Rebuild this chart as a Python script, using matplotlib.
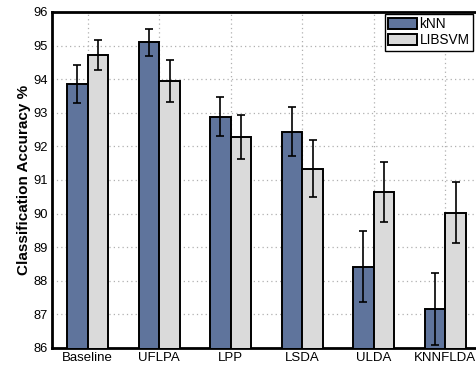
import matplotlib
matplotlib.use("Agg")
import matplotlib.pyplot as plt
import numpy as np

plt.rcParams['font.family'] = ['Liberation Sans', 'DejaVu Sans']

methods = ["Baseline", "UFLPA", "LPP", "LSDA", "ULDA", "KNNFLDA"]
knn_acc = [93.85, 95.10, 92.88, 92.43, 88.42, 87.16]
knn_err = [0.57, 0.40, 0.58, 0.73, 1.05, 1.07]
svm_acc = [94.72, 93.94, 92.28, 91.34, 90.64, 90.03]
svm_err = [0.45, 0.63, 0.66, 0.86, 0.90, 0.90]
yticks = [86, 87, 88, 89, 90, 91, 92, 93, 94, 95, 96]

knn_color = "#5f749c"
svm_color = "#dadada"

fig = plt.figure(figsize=(4.77, 3.71), dpi=100)
ax = fig.add_axes([52 / 477, 23 / 371, 429 / 477, 336 / 371])

x = np.arange(1, len(methods) + 1)
w = 0.287
err_kw = dict(ecolor="black", elinewidth=1.2, capsize=2.9, capthick=1.2)
b1 = ax.bar(x - w / 2, knn_acc, w, color=knn_color, edgecolor="black",
            linewidth=1.4, yerr=knn_err, error_kw=err_kw, label="kNN", zorder=3)
b2 = ax.bar(x + w / 2, svm_acc, w, color=svm_color, edgecolor="black",
            linewidth=1.4, yerr=svm_err, error_kw=err_kw, label="LIBSVM", zorder=3)

ax.set_xlim(0.5, 6.5)
ax.set_ylim(86, 96)
ax.set_xticks(x)
ax.set_xticklabels(methods, fontsize=9.5)
ax.set_yticks(yticks)
ax.set_yticklabels([str(t) for t in yticks], fontsize=9.3)
ax.tick_params(length=0, pad=3)

ax.grid(True, color="#b0b0b0", linestyle=(0, (1, 2.5)), linewidth=0.9, zorder=0)
ax.set_axisbelow(True)

for side in ("top", "left", "bottom"):
    ax.spines[side].set_linewidth(2.0)
ax.spines["right"].set_visible(False)

ax.set_ylabel("Classification Accuracy %", fontsize=11, fontweight="bold", labelpad=2)

leg = fig.legend(handles=[b1, b2], labels=["kNN", "LIBSVM"],
                 loc="upper right", bbox_to_anchor=(473 / 477, 1 - 14 / 371),
                 fontsize=9.8, frameon=True, fancybox=False, framealpha=1,
                 handlelength=2.1, handleheight=0.85, handletextpad=0.2,
                 borderpad=0.25, labelspacing=0.15, borderaxespad=0)
leg.get_frame().set_edgecolor("black")
leg.get_frame().set_linewidth(1.0)

fig.savefig("out.png", dpi=100)
